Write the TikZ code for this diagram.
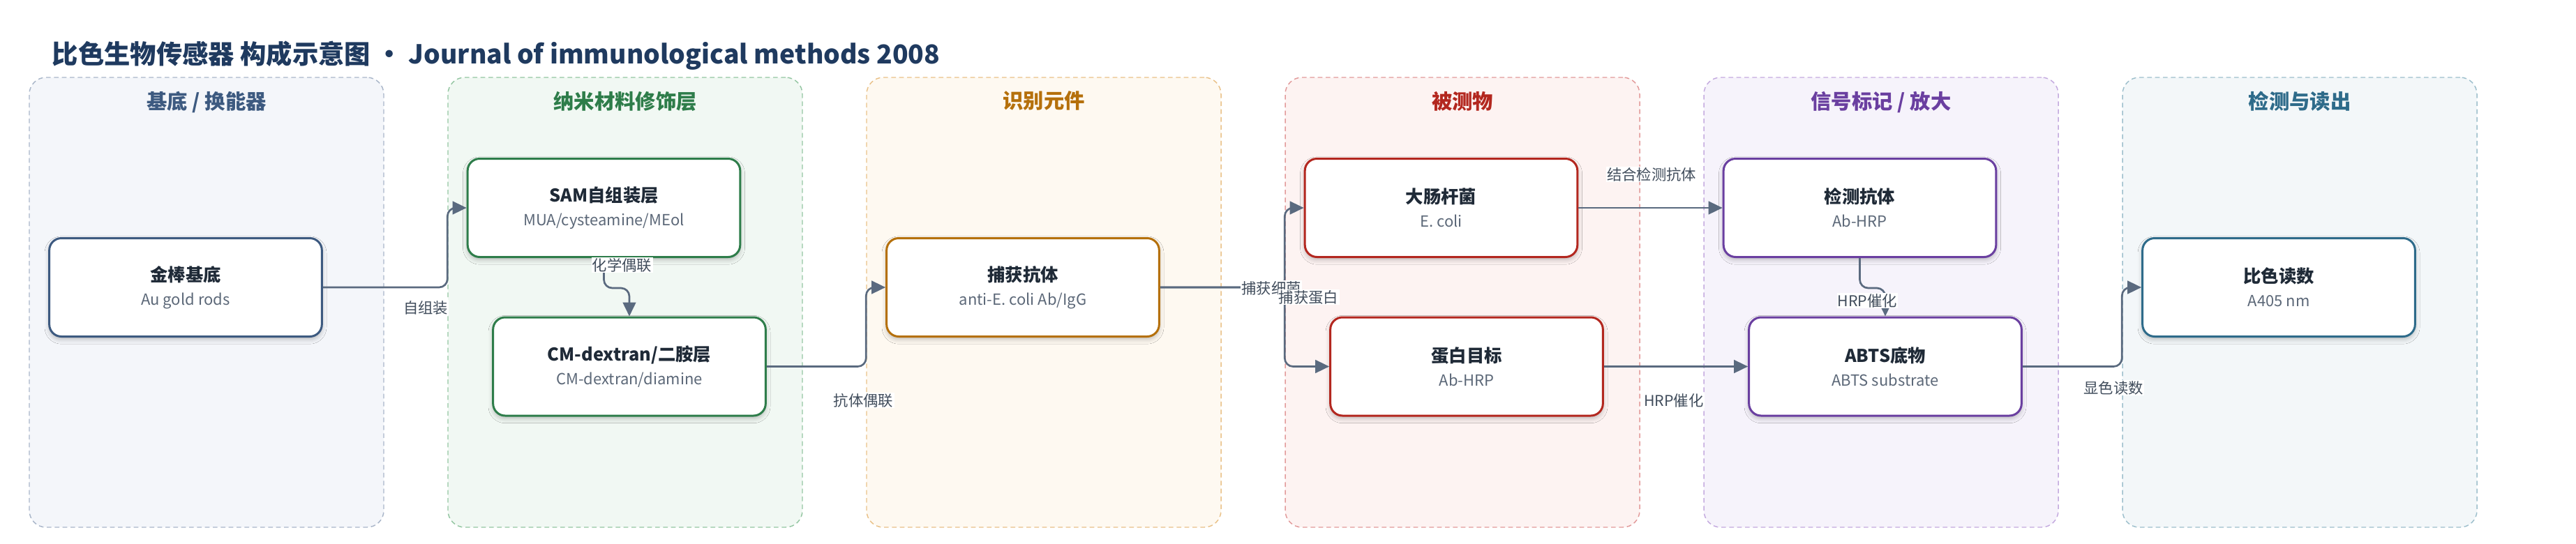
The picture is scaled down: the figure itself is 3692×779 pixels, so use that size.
\documentclass[tikz,border=0pt]{standalone}
\usepackage{fontspec}
\setmainfont{Noto Sans CJK SC}
\usepackage{tikz}
\usetikzlibrary{positioning,arrows.meta,shadows.blur}

\definecolor{ink}{HTML}{1F2A37}
\definecolor{subink}{HTML}{5C6878}
\definecolor{lblink}{HTML}{414D5C}
\definecolor{titleink}{HTML}{1F3A5F}
\definecolor{linkgray}{HTML}{5A6A7F}
\definecolor{subC}{HTML}{3D5A80}
\definecolor{subF}{HTML}{F4F6FA}
\definecolor{subD}{HTML}{A9B6C9}
\definecolor{nanoC}{HTML}{2E7D4A}
\definecolor{nanoF}{HTML}{F1F8F3}
\definecolor{nanoD}{HTML}{94C6A2}
\definecolor{recC}{HTML}{B5700B}
\definecolor{recF}{HTML}{FEF9F1}
\definecolor{recD}{HTML}{E9C188}
\definecolor{anaC}{HTML}{B3271F}
\definecolor{anaF}{HTML}{FDF3F2}
\definecolor{anaD}{HTML}{E29A9A}
\definecolor{sigC}{HTML}{6A3FA0}
\definecolor{sigF}{HTML}{F6F3FB}
\definecolor{sigD}{HTML}{C4AADF}
\definecolor{outC}{HTML}{2E6B8A}
\definecolor{outF}{HTML}{F3F7F9}
\definecolor{outD}{HTML}{9DBFCC}

\newcommand{\blocktext}[2]{{\fontsize{19}{25.5}\selectfont\bfseries\color{ink}#1}\\{\color{subink}#2}}

\begin{document}
\begin{tikzpicture}[
x=0.75pt, y=-0.75pt,
panel/.style 2 args={draw=#1, fill=#2, dash pattern=on 5pt off 3.5pt, line width=1.1pt, rounded corners=18pt, minimum width=381pt, minimum height=483.75pt, inner sep=0pt},
head/.style={text=#1, font=\fontsize{22}{26}\selectfont\bfseries},
block/.style={draw=#1, fill=white, line width=2.25pt, rounded corners=13pt, minimum width=293pt, minimum height=105.75pt, align=center, font=\fontsize{16.5}{25.5}\selectfont, blur shadow={shadow xshift=0pt, shadow yshift=-3pt, shadow blur radius=5pt, shadow opacity=25}},
link/.style={draw=linkgray, line width=2pt, rounded corners=9pt, -{Triangle[length=15pt,width=14pt]}},
lbl/.style={fill=white, text=lblink, inner sep=1pt, font=\fontsize{16}{18}\selectfont},
]
\useasboundingbox (0,0) rectangle (3692,779);

\node[anchor=west, text=titleink, font=\fontsize{28}{32}\selectfont\bfseries] (title) at (70,80) {比色生物传感器 构成示意图 · Journal of immunological methods 2008};

% lanes
\node[panel={subD}{subF}] (p1) at (296,433.5) {};
\node[panel={nanoD}{nanoF}] (p2) at (896,433.5) {};
\node[panel={recD}{recF}] (p3) at (1496,433.5) {};
\node[panel={anaD}{anaF}] (p4) at (2096,433.5) {};
\node[panel={sigD}{sigF}] (p5) at (2696,433.5) {};
\node[panel={outD}{outF}] (p6) at (3296,433.5) {};

\node[head=subC] (h1) [below=12pt of p1.north] {基底 / 换能器};
\node[head=nanoC] (h2) [below=12pt of p2.north] {纳米材料修饰层};
\node[head=recC] (h3) [below=12pt of p3.north] {识别元件};
\node[head=anaC] (h4) [below=12pt of p4.north] {被测物};
\node[head=sigC] (h5) [below=12pt of p5.north] {信号标记 / 放大};
\node[head=outC] (h6) [below=12pt of p6.north] {检测与读出};

% blocks
\node[block=subC] (au) at (266,412) {\blocktext{金棒基底}{Au gold rods}};
\node[block=nanoC] (sam) at (865.5,298) {\blocktext{SAM自组装层}{MUA/cysteamine/MEol}};
\node[block=nanoC] (cm) at (902,525.5) {\blocktext{CM-dextran/二胺层}{CM-dextran/diamine}};
\node[block=recC] (cap) at (1466,412) {\blocktext{捕获抗体}{anti-E. coli Ab/IgG}};
\node[block=anaC] (ecoli) at (2065.5,298) {\blocktext{大肠杆菌}{E. coli}};
\node[block=anaC] (prot) at (2102,525.5) {\blocktext{蛋白目标}{Ab-HRP}};
\node[block=sigC] (det) at (2665.5,298) {\blocktext{检测抗体}{Ab-HRP}};
\node[block=sigC] (abts) at (2702,525.5) {\blocktext{ABTS底物}{ABTS substrate}};
\node[block=outC] (read) at (3266,412) {\blocktext{比色读数}{A405 nm}};

% links
\draw[link] (au.east) -- (au.east -| p2.west) |- (sam.west);
\draw[link] (sam.south) -- ++(0,43) -| (cm.north);
\draw[link] (cm.east) -- (cm.east -| p3.west) |- (cap.west);
\draw[link] (cap.east) -- (cap.east -| p4.west) |- (ecoli.west);
\draw[link] (cap.east) -- (cap.east -| p4.west) |- (prot.west);
\draw[link] (ecoli.east) -- (det.west);
\draw[link] (prot.east) -- (abts.west);
\draw[link] (det.south) -- ++(0,43) -| (abts.north);
\draw[link] (abts.east) -- (abts.east -| p6.west) |- (read.west);

% link labels
\node[lbl] (l1) at (610,441) {自组装};
\node[lbl] (l2) at (891.5,380) {化学偶联};
\node[lbl] (l3) at (1237.5,574) {抗体偶联};
\node[lbl] (l4) at (1822,413) {捕获细菌};
\node[lbl] (l5) at (1875.5,426) {捕获蛋白};
\node[lbl] (l6) at (2367,250) {结合检测抗体};
\node[lbl] (l7) at (2399,574) {HRP催化};
\node[lbl] (l8) at (2676.5,431) {HRP催化};
\node[lbl] (l9) at (3029,556) {显色读数};

\end{tikzpicture}
\end{document}
